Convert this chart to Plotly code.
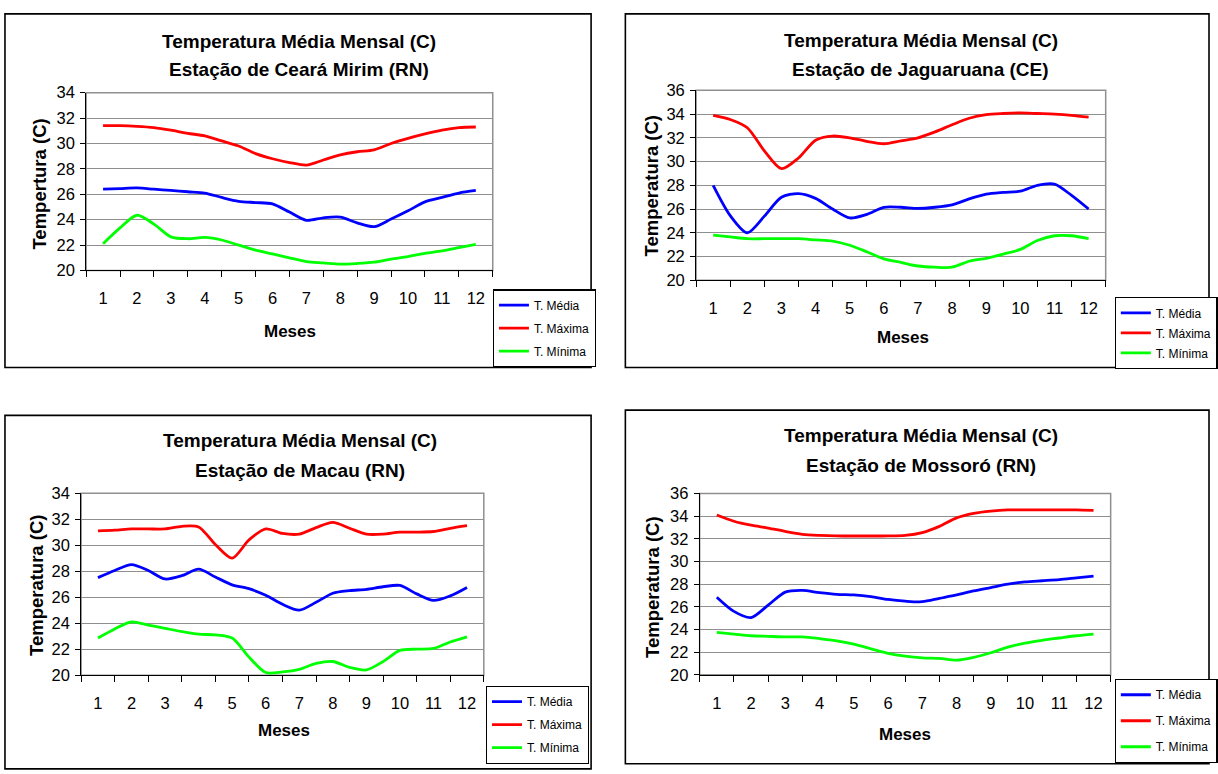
import plotly.graph_objects as go

W, H = 1218, 774

# ---------------- data ----------------
months = [1, 2, 3, 4, 5, 6, 7, 8, 9, 10, 11, 12]
# readings taken at every half month (month centres and month boundaries)
x_pos = [1, 1.5, 2, 2.5, 3, 3.5, 4, 4.5, 5, 5.5, 6, 6.5, 7, 7.5, 8, 8.5, 9, 9.5, 10, 10.5, 11, 11.5, 12]

series_names = ["T. Média", "T. Máxima", "T. Mínima"]

# Estação de Ceará Mirim (RN)
media_ceara = [26.4, 26.45, 26.5, 26.4, 26.3, 26.2, 26.1, 25.75, 25.45, 25.35, 25.25, 24.6, 23.95,
               24.15, 24.2, 23.75, 23.45, 24.05, 24.7, 25.4, 25.75, 26.1, 26.3]
maxima_ceara = [31.4, 31.4, 31.35, 31.25, 31.05, 30.8, 30.6, 30.2, 29.8, 29.2, 28.8, 28.5, 28.3,
                28.7, 29.1, 29.35, 29.5, 30.0, 30.4, 30.75, 31.05, 31.25, 31.3]
minima_ceara = [22.1, 23.35, 24.35, 23.65, 22.65, 22.5, 22.6, 22.4, 22.0, 21.6, 21.3, 21.0, 20.7,
                20.6, 20.5, 20.55, 20.65, 20.9, 21.1, 21.35, 21.55, 21.8, 22.05]

# Estação de Jaguaruana (CE)
media_jag = [28.0, 25.45, 24.0, 25.4, 27.0, 27.3, 26.9, 26.0, 25.25, 25.55, 26.15, 26.15, 26.05,
             26.15, 26.35, 26.85, 27.25, 27.4, 27.5, 28.0, 28.1, 27.15, 26.0]
maxima_jag = [33.9, 33.55, 32.85, 30.9, 29.4, 30.3, 31.8, 32.15, 32.0, 31.7, 31.5, 31.75, 32.0,
              32.5, 33.1, 33.65, 33.95, 34.05, 34.1, 34.05, 34.0, 33.9, 33.75]
minima_jag = [23.8, 23.65, 23.5, 23.5, 23.5, 23.5, 23.4, 23.3, 22.95, 22.4, 21.8, 21.5, 21.2,
              21.1, 21.1, 21.6, 21.85, 22.2, 22.6, 23.35, 23.75, 23.75, 23.5]

# Estação de Macau (RN)
media_macau = [27.5, 28.05, 28.5, 28.05, 27.4, 27.65, 28.15, 27.55, 26.95, 26.65, 26.15, 25.45, 25.0,
               25.6, 26.3, 26.5, 26.6, 26.8, 26.9, 26.25, 25.75, 26.1, 26.75]
maxima_macau = [31.1, 31.15, 31.25, 31.25, 31.25, 31.45, 31.4, 30.05, 29.0, 30.4, 31.25, 30.9, 30.85,
                31.35, 31.75, 31.3, 30.85, 30.85, 31.0, 31.0, 31.05, 31.3, 31.5]
minima_macau = [22.85, 23.55, 24.1, 23.85, 23.6, 23.35, 23.15, 23.1, 22.85, 21.4, 20.2, 20.25, 20.45,
                20.9, 21.05, 20.6, 20.4, 21.05, 21.9, 22.0, 22.05, 22.55, 22.95]

# Estação de Mossoró (RN)
media_moss = [26.85, 25.6, 25.05, 26.15, 27.3, 27.45, 27.25, 27.1, 27.05, 26.9, 26.65, 26.5, 26.45,
              26.75, 27.05, 27.4, 27.7, 28.0, 28.2, 28.3, 28.4, 28.55, 28.7]
maxima_moss = [34.1, 33.55, 33.2, 32.95, 32.65, 32.4, 32.3, 32.25, 32.25, 32.25, 32.25, 32.3, 32.55,
               33.1, 33.85, 34.25, 34.45, 34.55, 34.55, 34.55, 34.55, 34.55, 34.5]
minima_moss = [23.75, 23.6, 23.45, 23.4, 23.35, 23.35, 23.2, 23.0, 22.7, 22.3, 21.9, 21.65, 21.5,
               21.45, 21.3, 21.55, 21.95, 22.45, 22.8, 23.05, 23.25, 23.45, 23.6]

title_line1 = "Temperatura Média Mensal (C)"
stations = ["Estação de Ceará Mirim (RN)", "Estação de Jaguaruana (CE)",
            "Estação de Macau (RN)", "Estação de Mossoró (RN)"]
y_titles = ["Tempertura (C)", "Temperatura (C)", "Temperatura (C)", "Temperatura (C)"]
x_title = "Meses"
y_ranges = [(20, 34), (20, 36), (20, 34), (20, 36)]
panel_data = [
    (media_ceara, maxima_ceara, minima_ceara),
    (media_jag, maxima_jag, minima_jag),
    (media_macau, maxima_macau, minima_macau),
    (media_moss, maxima_moss, minima_moss),
]
colors = ["#0000FF", "#FF0000", "#00FF00"]

# ---------------- layout geometry (pixels) ----------------
panels = [
    dict(frame=(5, 5, 595, 367), plot=(86.7, 85.7, 496, 267.7), legend=(496, 287), gap=4,
         t1=33, t2=62, tx=301, ytx=40, yty=179, mx=292, my=330),
    dict(frame=(629.5, 5, 1217, 367), plot=(700.7, 83.3, 1113, 277.7), legend=(1122, 295), gap=1,
         t1=32, t2=62, tx=927, ytx=656, yty=181, mx=909, my=336),
    dict(frame=(5, 416, 595, 778), plot=(81.7, 495.7, 487, 682), legend=(489, 693), gap=4,
         t1=442, t2=472, tx=302, ytx=37, yty=590, mx=286, my=739),
    dict(frame=(629.5, 410.7, 1217, 772.7), plot=(704.3, 496, 1118, 681.7), legend=(1122, 686), gap=7,
         t1=437, t2=467, tx=927, ytx=657, yty=592, mx=911, my=743),
]

SANS = "Liberation Sans, Arial, sans-serif"


def px(x):
    return x / W


def py(y):
    return 1 - y / H


fig = go.Figure()
layout = dict(width=W, height=H, margin=dict(l=0, r=0, t=0, b=0),
              paper_bgcolor="white", plot_bgcolor="white", showlegend=True)
shapes, annotations = [], []
boundaries = [m - 0.5 for m in months] + [months[-1] + 0.5]

for i, p in enumerate(panels):
    n = "" if i == 0 else str(i + 1)
    x0, y0, x1, y1 = p["plot"]
    lg = "legend" + n
    for name, vals, col in zip(series_names, panel_data[i], colors):
        fig.add_trace(go.Scatter(
            x=x_pos, y=vals, mode="lines", name=name,
            line=dict(color=col, width=2.8, shape="spline", smoothing=0.8),
            xaxis="x" + n, yaxis="y" + n, legend=lg, legendgroup=f"{name}{i}",
            hoverinfo="skip"))
    layout["xaxis" + n] = dict(
        domain=[px(x0), px(x1)], anchor="y" + n, range=[0.5, 12.5],
        tickmode="array", tickvals=months, ticktext=[str(m) for m in months],
        ticks="", ticklabelstandoff=13, showgrid=False, zeroline=False,
        showline=True, linecolor="black", linewidth=1,
        tickfont=dict(family=SANS, size=16.5, color="black"),
        minor=dict(tickmode="array", tickvals=boundaries, ticks="outside",
                   ticklen=6, tickcolor="black", tickwidth=1, showgrid=False),
        fixedrange=True)
    lo, hi = y_ranges[i]
    layout["yaxis" + n] = dict(
        domain=[py(y1), py(y0)], anchor="x" + n, range=[lo, hi],
        tickmode="linear", tick0=lo, dtick=2, ticks="outside", ticklen=5,
        tickcolor="black", showgrid=True, gridcolor="#8f8f8f", gridwidth=1,
        zeroline=False, showline=True, linecolor="black", linewidth=1,
        tickfont=dict(family=SANS, size=16.5, color="black"), ticklabelstandoff=2,
        fixedrange=True)
    # gray plot-area border
    shapes.append(dict(type="rect", xref=f"x{n} domain", yref=f"y{n} domain",
                       x0=0, x1=1, y0=0, y1=1, line=dict(color="#8f8f8f", width=1.5),
                       layer="below"))
    # outer frame
    fx0, fy0, fx1, fy1 = p["frame"]
    shapes.append(dict(type="rect", xref="paper", yref="paper",
                       x0=px(fx0), x1=px(fx1), y0=py(fy1), y1=py(fy0),
                       line=dict(color="black", width=1.6)))
    # titles
    annotations.append(dict(text=f"<b>{title_line1}</b>", xref="paper", yref="paper",
                            x=px(p["tx"]), y=py(p["t1"]), showarrow=False,
                            xanchor="center", yanchor="middle",
                            font=dict(family=SANS, size=19, color="black")))
    annotations.append(dict(text=f"<b>{stations[i]}</b>", xref="paper", yref="paper",
                            x=px(p["tx"]), y=py(p["t2"]), showarrow=False,
                            xanchor="center", yanchor="middle",
                            font=dict(family=SANS, size=19, color="black")))
    annotations.append(dict(text=f"<b>{y_titles[i]}</b>", xref="paper", yref="paper",
                            x=px(p["ytx"]), y=py(p["yty"]), showarrow=False, textangle=-90,
                            xanchor="center", yanchor="middle",
                            font=dict(family=SANS, size=18.5, color="black")))
    annotations.append(dict(text=f"<b>{x_title}</b>", xref="paper", yref="paper",
                            x=px(p["mx"]), y=py(p["my"]), showarrow=False,
                            xanchor="center", yanchor="middle",
                            font=dict(family=SANS, size=17, color="black")))
    lx, ly = p["legend"]
    layout[lg] = dict(x=px(lx), y=py(ly), xanchor="left", yanchor="top",
                      bgcolor="white", bordercolor="black", borderwidth=1.2,
                      font=dict(family=SANS, size=12, color="black"),
                      tracegroupgap=p["gap"], itemwidth=30, traceorder="grouped")

layout["shapes"] = shapes
layout["annotations"] = annotations
fig.update_layout(**layout)
fig.write_html("out.html")
